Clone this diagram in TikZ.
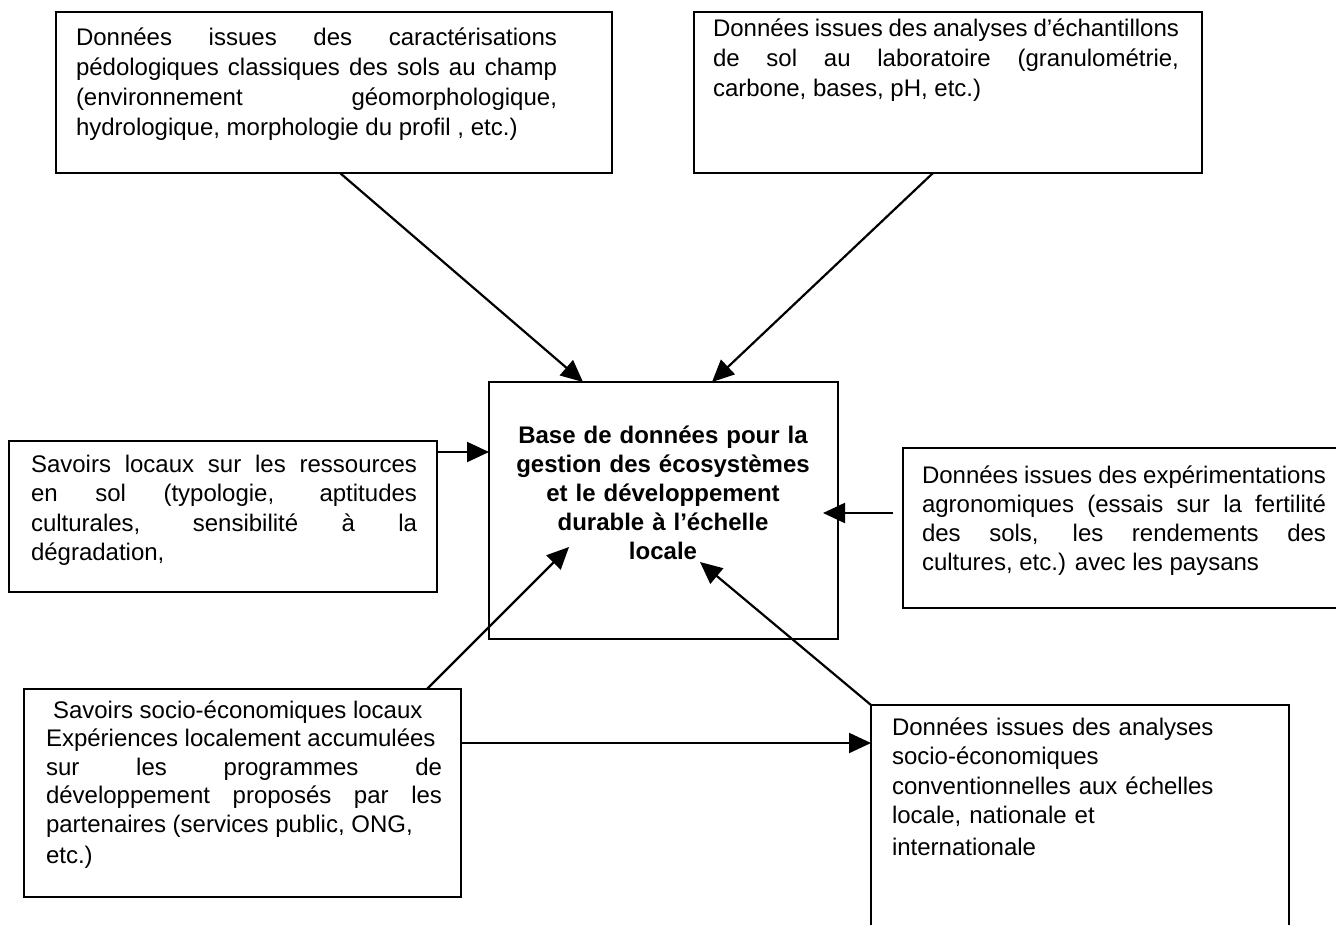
\documentclass[tikz,border=0pt]{standalone}
\usepackage{fontspec}
\setmainfont{Liberation Sans}
\usetikzlibrary{arrows.meta}
\tikzset{
  box/.style={draw, line width=2.2pt, rectangle, inner sep=0pt, outer sep=0pt, anchor=north west},
  txt/.style={inner sep=0pt, outer sep=0pt, anchor=base west, align=justify, font=\fontsize{24}{29.5}\selectfont},
  conn/.style={line width=2.2pt, -{Triangle[length=22pt,width=20pt]}},
}
\begin{document}
\begin{tikzpicture}[x=1pt,y=-1pt]
\useasboundingbox (0,0) rectangle (1336,924);
% boxes
\node[box, minimum width=556pt, minimum height=161pt] (b1) at (56,12) {};
\node[box, minimum width=508pt, minimum height=161pt] (b2) at (694,12) {};
\node[box, minimum width=349pt, minimum height=257pt] (c) at (489,382) {};
\node[box, minimum width=428pt, minimum height=151pt] (b3) at (9,441) {};
\node[box, minimum width=445pt, minimum height=160pt] (b4) at (903,448) {};
\node[box, minimum width=437pt, minimum height=208pt] (b5) at (24,689) {};
\node[box, minimum width=418pt, minimum height=260pt] (b6) at (871,705) {};
% texts
\node[txt, text width=481pt, font=\fontsize{24}{30}\selectfont] (t1) at (76,45)
 {Données issues des caractérisations\linebreak pédologiques classiques des sols au champ\linebreak (environnement géomorphologique,\linebreak hydrologique, morphologie du profil , etc.)};
\node[txt, text width=466pt, font=\fontsize{24}{30}\selectfont] (t2) at (713,36)
 {Données issues des analyses d’échantillons\linebreak de sol au laboratoire (granulométrie,\linebreak carbone, bases, pH, etc.)};
\node[txt, text width=386pt] (t3) at (31,472)
 {Savoirs locaux sur les ressources\linebreak en sol (typologie, aptitudes\linebreak culturales, sensibilité à la\linebreak dégradation,};
\node[txt, anchor=base, text width=340pt, align=center, font=\fontsize{24}{29}\selectfont\bfseries] (tc) at (663,443)
 {Base de données pour la\\gestion des écosystèmes\\et le développement\\durable à l’échelle\\locale};
\node[txt, text width=404pt, font=\fontsize{24}{29}\selectfont] (t4) at (922,483)
 {Données issues des expérimentations\linebreak agronomiques (essais sur la fertilité\linebreak des sols, les rendements des\linebreak cultures, etc.) avec les paysans};
\node[txt, text width=396pt, font=\fontsize{24}{28.5}\selectfont] (t5) at (46,718)
 {\hspace*{7pt}Savoirs socio-économiques locaux\\Expériences localement accumulées\\sur les programmes de\linebreak développement proposés par les\linebreak partenaires (services public, ONG,\\[3pt]etc.)};
\node[txt, text width=400pt, align=left, font=\fontsize{24}{29.5}\selectfont] (t6) at (892,735)
 {Données issues des analyses\\socio-économiques\\conventionnelles aux échelles\\locale, nationale et\\[2pt]internationale};
% connector end points
\coordinate (s1) at ([xshift=284pt]b1.south west);
\coordinate (e1) at ([xshift=94pt]c.north west);
\coordinate (s2) at ([xshift=239pt]b2.south west);
\coordinate (e2) at ([xshift=223pt]c.north west);
\coordinate (s3) at ([yshift=-11pt]b3.north east);
\coordinate (s4) at ([xshift=-10pt,yshift=-65pt]b4.north west);
\coordinate (e4) at ([xshift=-15pt,yshift=-131pt]c.north east);
\coordinate (s5) at ([xshift=-34pt]b5.north east);
\coordinate (e5) at ([xshift=80pt,yshift=92pt]c.south west);
\coordinate (e6) at ([xshift=211pt,yshift=77pt]c.south west);
\coordinate (s7) at ([yshift=-54pt]b5.north east);
% connectors
\draw[conn] (s1) -- (e1);
\draw[conn] (s2) -- (e2);
\draw[conn] (s3) -- (s3 -| c.west);
\draw[conn] (s4) -- (e4);
\draw[conn] (s5) -- (e5);
\draw[conn] (b6.north west) -- (e6);
\draw[conn] (s7) -- (s7 -| b6.west);
\end{tikzpicture}
\end{document}
